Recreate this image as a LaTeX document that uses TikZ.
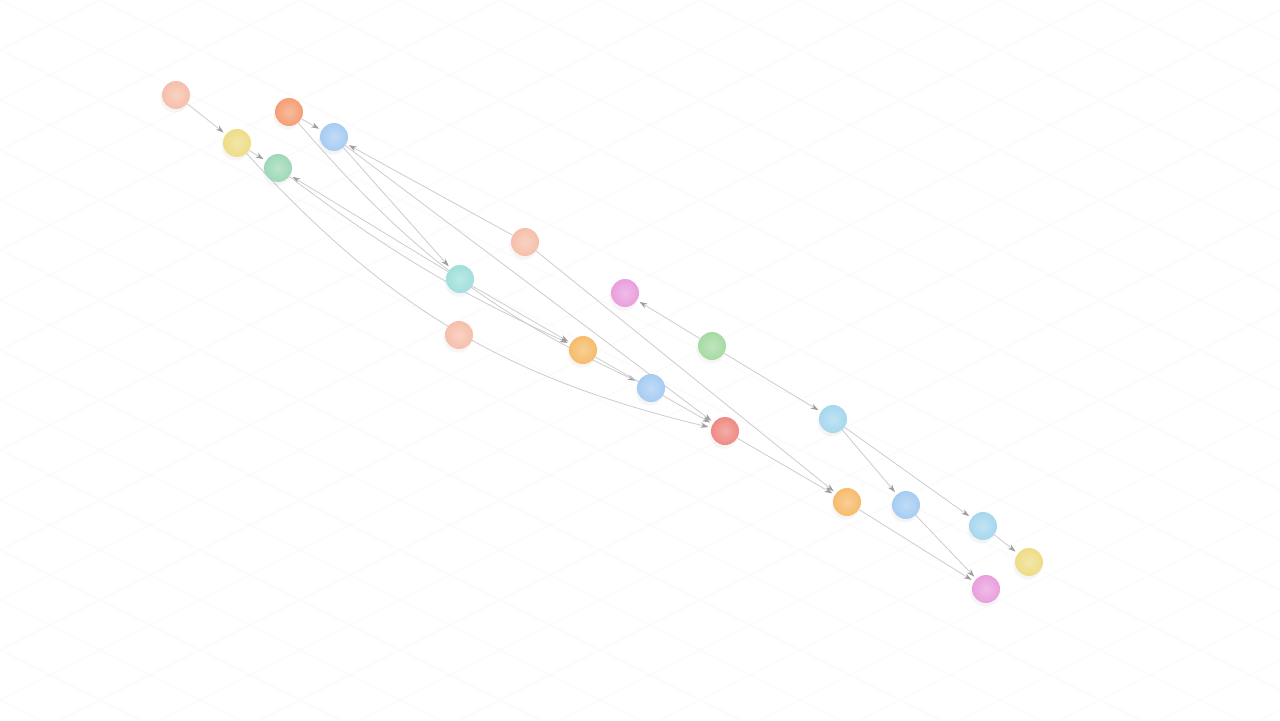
\documentclass[tikz,border=0pt]{standalone}
\usetikzlibrary{shadows,arrows.meta}

\pgfdeclarelayer{background}
\pgfdeclarelayer{edges}
\pgfsetlayers{background,edges,main}

\definecolor{cPeach}{HTML}{F6BFAA}
\definecolor{cYellow}{HTML}{EEDC86}
\definecolor{cOrange}{HTML}{F59E74}
\definecolor{cBlue}{HTML}{A6CCF2}
\definecolor{cGreen}{HTML}{9ED8B8}
\definecolor{cTeal}{HTML}{A0DFDB}
\definecolor{cPink}{HTML}{E99FDD}
\definecolor{cAmber}{HTML}{F6BB6A}
\definecolor{cMint}{HTML}{A6DAA4}
\definecolor{cRed}{HTML}{EF8A82}
\definecolor{cSky}{HTML}{A6D7EE}

\tikzset{
  ball/.style={circle, inner sep=0pt, minimum size=0.56cm,
    inner color=#1!70!white, outer color=#1,
    circular drop shadow={shadow xshift=-0.8pt, shadow yshift=-1.4pt, opacity=0.08}},
  link/.style={->, >={Stealth[length=4.5pt, width=3pt, color=black!38]},
    black!20, line width=0.45pt, shorten >=1.5pt},
  gridline/.style={black!2, line width=0.4pt}
}

\begin{document}
\begin{tikzpicture}[x=0.02cm, y=-0.02cm]
    \useasboundingbox (0,0) rectangle (1280,720);

    % First the faint floor grid
    \begin{pgfonlayer}{background}
        \fill[white] (0,0) rectangle (1280,720);
        \clip (0,0) rectangle (1280,720);
        \foreach \c in {-700,-650,...,750} {\draw[gridline] (0,\c) -- (1280,\c+640);}
        \foreach \c in {0,50,...,1400} {\draw[gridline] (0,\c) -- (1280,\c-640);}
    \end{pgfonlayer}

    % Now the balls
    \node[ball=cPeach]  (peachA)  at (176,95)  {};
    \node[ball=cYellow] (yellowA) at (237,143) {};
    \node[ball=cOrange] (orangeA) at (289,112) {};
    \node[ball=cBlue]   (blueA)   at (334,137) {};
    \node[ball=cGreen]  (greenA)  at (278,168) {};
    \node[ball=cPeach]  (peachB)  at (525,242) {};
    \node[ball=cPink]   (pinkA)   at (625,293) {};
    \node[ball=cTeal]   (tealA)   at (460,279) {};
    \node[ball=cPeach]  (peachC)  at (459,335) {};
    \node[ball=cAmber]  (amberA)  at (583,350) {};
    \node[ball=cMint]   (mintA)   at (712,346) {};
    \node[ball=cBlue]   (blueB)   at (651,388) {};
    \node[ball=cRed]    (redA)    at (725,431) {};
    \node[ball=cSky]    (skyA)    at (833,419) {};
    \node[ball=cAmber]  (amberB)  at (847,502) {};
    \node[ball=cBlue]   (blueC)   at (906,505) {};
    \node[ball=cSky]    (skyB)    at (983,526) {};
    \node[ball=cYellow] (yellowB) at (1029,562) {};
    \node[ball=cPink]   (pinkB)   at (986,589) {};

    % Now the links, kept behind the balls
    \begin{pgfonlayer}{edges}
        \draw[link] (peachA) -- (yellowA);
        \draw[link] (yellowA) -- (greenA);
        \draw[link] (orangeA) -- (blueA);
        \draw[link] (peachB) -- (blueA);
        \draw[link] (tealA) -- (greenA);
        \draw[link] (blueA) -- (tealA);
        \draw[link] (orangeA) to[bend right=12] (blueB);
        \draw[link] (greenA) to[bend right=6] (amberA);
        \draw[link] (tealA) -- (amberA);
        \draw[link] (blueA) -- (redA);
        \draw[link] (yellowA) to[bend right=17] (redA);
        \draw[link] (amberA) -- (redA);
        \draw[link] (peachB) -- (amberB);
        \draw[link] (redA) -- (amberB);
        \draw[link] (mintA) -- (pinkA);
        \draw[link] (mintA) -- (skyA);
        \draw[link] (skyA) -- (blueC);
        \draw[link] (skyA) -- (skyB);
        \draw[link] (skyB) -- (yellowB);
        \draw[link] (amberB) -- (pinkB);
        \draw[link] (blueC) -- (pinkB);
    \end{pgfonlayer}

\end{tikzpicture}
\end{document}
